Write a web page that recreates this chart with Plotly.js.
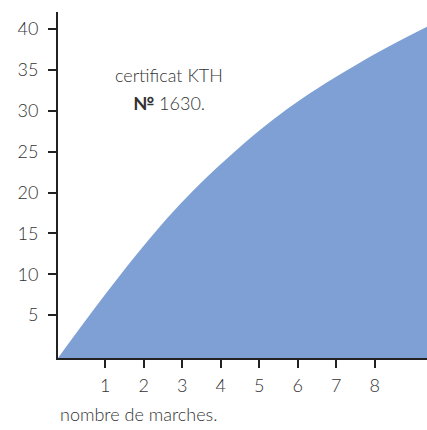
<!DOCTYPE html>
<html><head><meta charset="utf-8">
<script src="https://cdn.plot.ly/plotly-3.0.1.min.js"></script>
<style>html,body{margin:0;padding:0;background:#fff}#c{width:427px;height:430px}</style>
</head><body><div id="c"></div>
<script>
// values
const stepsX = [-0.23, 1.02, 2.16, 3.11, 4.76, 6.06, 7.96, 9.36];
const heightY = [-0.26, 7.66, 14.39, 19.4, 26.63, 31.32, 36.83, 40.3];
const xTicks = [1, 2, 3, 4, 5, 6, 7, 8];
const yTicks = [5, 10, 15, 20, 25, 30, 35, 40];
const xLabel = "nombre de marches.";
const noteLine1 = "certificat KTH";
const noteLine2 = "<b>№</b> 1630.";

const xRange = [stepsX[0], stepsX[stepsX.length - 1]];
const yRange = [heightY[0], 42.1];
const baseY = stepsX.map(() => yRange[0]);

const fnt = {family: "Lato, 'DejaVu Sans', sans-serif", size: 18, color: "#333", weight: 300};

const data = [
  {x: stepsX, y: baseY, mode: "lines", line: {width: 0}, hoverinfo: "skip", showlegend: false},
  {x: stepsX, y: heightY, mode: "lines", line: {width: 0, shape: "spline", smoothing: 1, color: "#7fa0d4"},
   fill: "tonexty", fillcolor: "#7fa0d4", showlegend: false}
];

const layout = {
  width: 427, height: 430,
  margin: {l: 58, r: 0, t: 12, b: 72},
  paper_bgcolor: "#fff", plot_bgcolor: "#fff",
  font: fnt,
  xaxis: {range: xRange, tickvals: xTicks, ticktext: xTicks.map(String),
    showgrid: false, zeroline: false, showline: true, linecolor: "#222", linewidth: 2,
    ticks: "outside", ticklen: 8, tickwidth: 2, tickcolor: "#222", tickfont: fnt, ticklabelstandoff: 2},
  yaxis: {range: yRange, tickvals: yTicks, ticktext: yTicks.map(String),
    showgrid: false, zeroline: false, showline: true, linecolor: "#222", linewidth: 2,
    ticks: "outside", ticklen: 8, tickwidth: 2, tickcolor: "#222", tickfont: fnt, ticklabelstandoff: 6},
  annotations: [
    {xref: "paper", yref: "paper", x: 0, y: 0, yshift: -56, xanchor: "left", yanchor: "middle",
     text: xLabel, showarrow: false, font: fnt},
    {xref: "paper", yref: "paper", x: 0.3014, y: 1, yshift: -63, xanchor: "center", yanchor: "middle",
     text: noteLine1, showarrow: false, font: fnt},
    {xref: "paper", yref: "paper", x: 0.3014, y: 1, yshift: -91, xanchor: "center", yanchor: "middle",
     text: noteLine2, showarrow: false, font: fnt}
  ]
};
Plotly.newPlot("c", data, layout, {displayModeBar: false, staticPlot: true});
</script></body></html>
